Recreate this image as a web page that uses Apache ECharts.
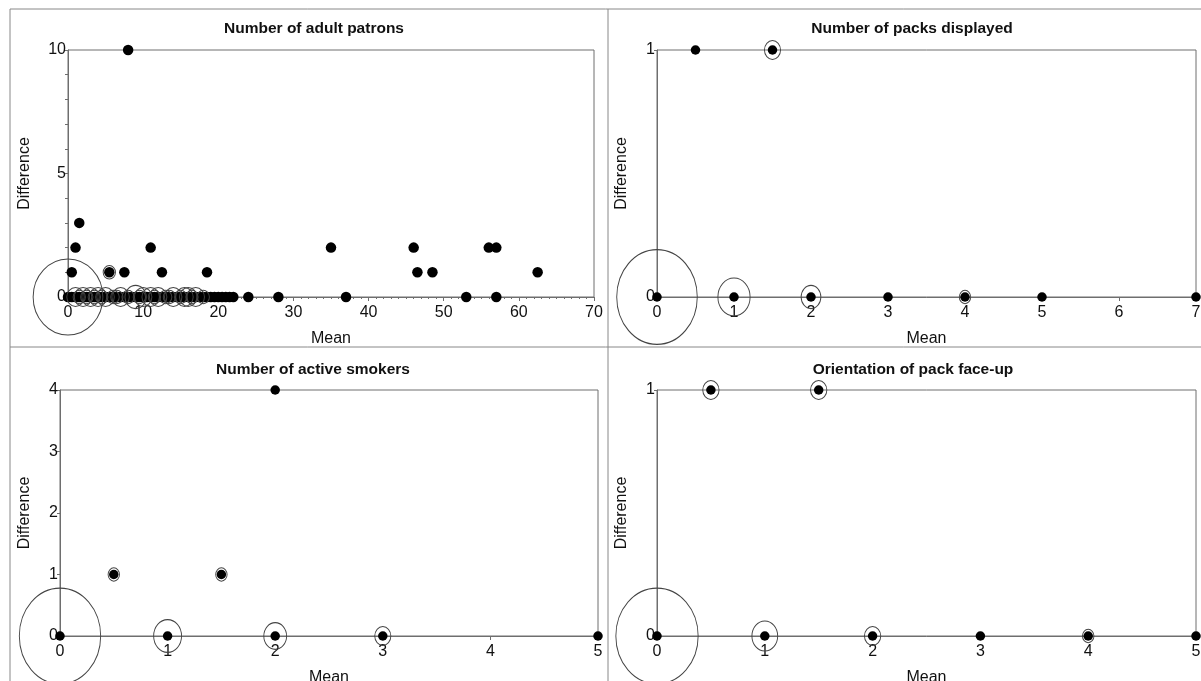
<!DOCTYPE html>
<html>
<head>
<meta charset="utf-8">
<script src="https://cdn.jsdelivr.net/npm/echarts@6/dist/echarts.min.js"></script>
<style>
html,body{margin:0;padding:0;background:#fff;}
#chart{width:1201px;height:681px;}
</style>
</head>
<body>
<div id="chart"></div>
<script>
// ---------- DATA ----------
const panelTitles = ['Number of adult patrons', 'Number of packs displayed', 'Number of active smokers', 'Orientation of pack face-up'];

// Panel 1: Number of adult patrons  [mean, difference]
const adultPoints = [
  [8, 10], [1.5, 3],
  [1, 2], [11, 2], [35, 2], [46, 2], [56, 2], [57, 2],
  [0.5, 1], [5.5, 1], [7.5, 1], [12.5, 1], [18.5, 1], [46.5, 1], [48.5, 1], [62.5, 1],
  [0, 0], [0.5, 0], [1, 0], [1.5, 0], [2, 0], [2.5, 0], [3, 0], [3.5, 0], [4, 0], [4.5, 0],
  [5, 0], [5.5, 0], [6, 0], [6.5, 0], [7, 0], [7.5, 0], [8, 0], [8.5, 0], [9, 0], [9.5, 0],
  [10, 0], [10.5, 0], [11, 0], [11.5, 0], [12, 0], [12.5, 0], [13, 0], [13.5, 0], [14, 0], [14.5, 0],
  [15, 0], [15.5, 0], [16, 0], [16.5, 0], [17, 0], [17.5, 0], [18, 0], [18.5, 0], [19, 0], [19.5, 0],
  [20, 0], [20.5, 0], [21, 0], [21.5, 0], [22, 0],
  [24, 0], [28, 0], [37, 0], [53, 0], [57, 0]
];
// overlap rings [mean, difference, count]
const adultRings = [
  [0, 0, 32], [5.5, 1, 1],
  [1, 0, 2], [1.5, 0, 1], [2, 0, 2], [2.5, 0, 1], [3, 0, 2], [3.5, 0, 1], [4, 0, 2], [4.5, 0, 1],
  [5, 0, 2], [6, 0, 1], [6.5, 0, 1], [7, 0, 2], [8, 0, 1], [9, 0, 3], [9.5, 0, 1], [10, 0, 2],
  [11, 0, 2], [11.5, 0, 1], [12, 0, 2], [13, 0, 1], [13.5, 0, 1], [14, 0, 2], [15, 0, 1],
  [15.5, 0, 2], [16, 0, 2], [16.5, 0, 1], [17, 0, 2], [18, 0, 1]
];

// Panel 2: Number of packs displayed
const packsPoints = [[0.5, 1], [1.5, 1], [0, 0], [1, 0], [2, 0], [3, 0], [4, 0], [5, 0], [7, 0]];
const packsRings = [[0, 0, 50], [1, 0, 8], [2, 0, 3], [1.5, 1, 2], [4, 0, 1]];

// Panel 3: Number of active smokers
const smokersPoints = [[2, 4], [0.5, 1], [1.5, 1], [0, 0], [1, 0], [2, 0], [3, 0], [5, 0]];
const smokersRings = [[0, 0, 51], [1, 0, 6], [2, 0, 4], [3, 0, 2], [0.5, 1, 1], [1.5, 1, 1]];

// Panel 4: Orientation of pack face-up
const orientPoints = [[0.5, 1], [1.5, 1], [0, 0], [1, 0], [2, 0], [3, 0], [4, 0], [5, 0]];
const orientRings = [[0, 0, 51], [1, 0, 5], [2, 0, 2], [0.5, 1, 2], [1.5, 1, 2], [4, 0, 1]];

// axis ranges
const xMaxes = [70, 7, 5, 5];
const xIntervals = [10, 1, 1, 1];
const yMaxes = [10, 1, 4, 1];
const yIntervals = [5, 1, 1, 1];

// ---------- LAYOUT ----------
const FONT = '"Liberation Sans", Arial, sans-serif';
const AX = '#6e6e6e';
const grids = [
  {left: 68, width: 526, top: 50, height: 247},
  {left: 657, width: 539, top: 50, height: 247},
  {left: 60, width: 538, top: 390, height: 246},
  {left: 657, width: 539, top: 390, height: 246}
];
const titlePos = [[309, 16], [907, 16], [308, 357], [908, 357]];
const yNameGaps = [35, 27, 27, 27];
const aspects = [0.92, 0.85, 0.85, 0.86];
const dotSizes = [10.5, 9.5, 9.5, 9.5];
const K = 13.4;

const allPoints = [adultPoints, packsPoints, smokersPoints, orientPoints];
const allRings = [adultRings, packsRings, smokersRings, orientRings];

const option = {
  animation: false,
  backgroundColor: '#fff',
  title: panelTitles.map((t, i) => ({
    text: t, left: titlePos[i][0], top: titlePos[i][1], textAlign: 'center',
    textStyle: {fontFamily: FONT, fontSize: 15.5, fontWeight: 'bold', color: '#111'}
  })),
  grid: grids.map(g => Object.assign({
    show: true, borderColor: AX, borderWidth: 1, backgroundColor: 'transparent',
    containLabel: false, outerBoundsMode: 'none'
  }, g)),
  xAxis: grids.map((g, i) => ({
    type: 'value', gridIndex: i, min: 0, max: xMaxes[i], interval: xIntervals[i],
    axisLine: {show: true, onZero: false, lineStyle: {color: AX, width: 1}},
    axisTick: {show: true, length: 4, lineStyle: {color: AX}},
    minorTick: {show: i === 0, splitNumber: 10, length: 2, lineStyle: {color: AX}},
    splitLine: {show: false},
    axisLabel: {color: '#111', fontSize: 16, margin: 8, fontFamily: FONT},
    name: 'Mean', nameLocation: 'middle', nameGap: 34,
    nameTextStyle: {color: '#111', fontSize: 16, fontFamily: FONT}
  })),
  yAxis: grids.map((g, i) => ({
    type: 'value', gridIndex: i, min: 0, max: yMaxes[i], interval: yIntervals[i],
    axisLine: {show: true, onZero: false, lineStyle: {color: AX, width: 1}},
    axisTick: {show: true, length: 3, lineStyle: {color: AX}},
    minorTick: {show: i === 0, splitNumber: 5, length: 3, lineStyle: {color: AX}},
    splitLine: {show: false},
    axisLabel: {color: '#111', fontSize: 16, margin: 2, fontFamily: FONT},
    name: 'Difference', nameLocation: 'middle', nameGap: yNameGaps[i],
    nameTextStyle: {color: '#111', fontSize: 16, fontFamily: FONT}
  })),
  series: [],
  graphic: [
    {type: 'line', shape: {x1: 10, y1: 9, x2: 10, y2: 681}, style: {stroke: '#888', lineWidth: 1}},
    {type: 'line', shape: {x1: 10, y1: 9, x2: 1201, y2: 9}, style: {stroke: '#888', lineWidth: 1}},
    {type: 'line', shape: {x1: 608, y1: 9, x2: 608, y2: 681}, style: {stroke: '#888', lineWidth: 1}},
    {type: 'line', shape: {x1: 10, y1: 347, x2: 1201, y2: 347}, style: {stroke: '#888', lineWidth: 1}}
  ]
};

for (let i = 0; i < 4; i++) {
  option.series.push({
    type: 'scatter', xAxisIndex: i, yAxisIndex: i,
    data: allPoints[i], symbol: 'circle', symbolSize: dotSizes[i],
    itemStyle: {color: '#000', opacity: 1}, clip: false, z: 3
  });
  const asp = aspects[i];
  option.series.push({
    type: 'scatter', xAxisIndex: i, yAxisIndex: i,
    data: allRings[i].map(r => [r[0], r[1], r[2]]),
    symbol: 'circle',
    symbolSize: v => { const d = K * Math.sqrt(v[2]); return [d * asp, d]; },
    itemStyle: {color: 'rgba(0,0,0,0)', borderColor: '#444', borderWidth: 1, opacity: 1},
    clip: false, z: 4
  });
}

const chart = echarts.init(document.getElementById('chart'), null, {renderer: 'canvas'});
chart.setOption(option);
</script>
</body>
</html>
